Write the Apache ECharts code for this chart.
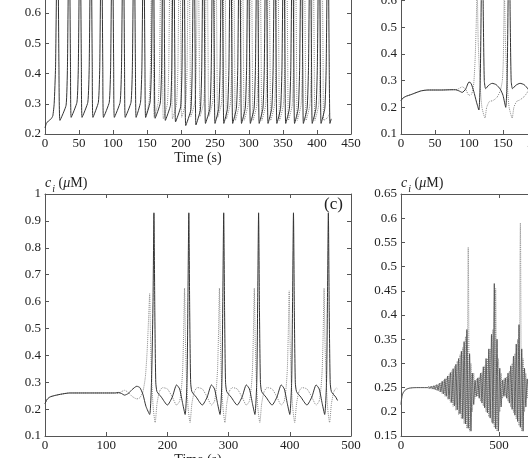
<!DOCTYPE html>
<html><head><meta charset="utf-8">
<script src="https://cdn.jsdelivr.net/npm/echarts@6/dist/echarts.min.js"></script>
<style>html,body{margin:0;padding:0;background:#fff}#c{width:528px;height:458px}</style>
</head><body><div id="c"></div>
<script>
// ---------- data: [time (s), c_i (uM)] ----------
const aSolid = [[0,.22],[2,.235],[5,.243],[9,.25],[11.5,.26],[13.5,.3],[15.5,.42],[18.5,.95],[20.5,.42],
[22,.245],[31,.295],[33,.42],[35.5,.95],[37.5,.42],
[38.5,.255],[47,.305],[49,.42],[51.5,.95],[53.5,.42],
[54.5,.255],[63,.305],[65,.42],[67.5,.95],[69.5,.42],
[70.5,.255],[78.5,.305],[80.5,.42],[83,.95],[85,.42],
[86,.255],[94.5,.305],[96.5,.42],[99,.95],[101,.42],
[102,.255],[110.5,.305],[112.5,.42],[115,.95],[117,.42],
[118,.255],[126.5,.305],[128.5,.42],[131,.95],[133,.42],
[134,.255],[140.5,.305],[142.5,.42],[145,.95],[147,.42],
[148,.255],[154.5,.305],[156.5,.42],[159,.95],[161,.42],
[162,.252],[169.5,.302],[171.5,.42],[174,.95],[176,.42],
[177,.245],[184.5,.295],[186.5,.42],[189,.95],[191,.42],
[192,.24],[199.5,.29],[201.5,.42],[204,.95],[206,.42],
[207,.228],[214.5,.28],[216.5,.42],[219,.95],[221,.42],
[222,.23],[228.5,.28],[230.5,.42],[233,.95],[235,.42],
[236,.235],[242.5,.285],[244.5,.42],[247,.95],[249,.42],
[250,.235],[255.5,.285],[257.5,.42],[260,.95],[262,.42],
[263,.235],[268.5,.285],[270.5,.42],[273,.95],[275,.42],
[276,.235],[281.5,.285],[283.5,.42],[286,.95],[288,.42],
[289,.235],[294.5,.285],[296.5,.42],[299,.95],[301,.42],
[302,.235],[307.5,.285],[309.5,.42],[312,.95],[314,.42],
[315,.235],[320.5,.285],[322.5,.42],[325,.95],[327,.42],
[328,.235],[333.5,.285],[335.5,.42],[338,.95],[340,.42],
[341,.235],[346.5,.285],[348.5,.42],[351,.95],[353,.42],
[354,.235],[359.5,.285],[361.5,.42],[364,.95],[366,.42],
[367,.235],[372.5,.285],[374.5,.42],[377,.95],[379,.42],
[380,.235],[385.5,.285],[387.5,.42],[390,.95],[392,.42],
[393,.235],[398.5,.285],[400.5,.42],[403,.95],[405,.42],
[406,.235],[411.5,.285],[413.5,.42],[416,.95],[418,.42],
[419,.235],[421,.25]];
const aDotted = [[148,.255],[153,.305],[155,.42],[157.5,.95],[159.5,.42],
[160.5,.255],[166.5,.305],[168.5,.42],[171,.95],[173,.42],
[174,.25],[180,.3],[182,.42],[184.5,.95],[186.5,.42],
[187.5,.25],[193.5,.3],[195.5,.42],[198,.95],[200,.42],
[201,.255],[207,.305],[209,.42],[211.5,.95],[213.5,.42],
[214.5,.258],[220.5,.305],[222.5,.42],[225,.95],[227,.42],
[228,.258],[233.5,.305],[235.5,.42],[238,.95],[240,.42],
[241,.258],[246.5,.305],[248.5,.42],[251,.95],[253,.42],
[254,.255],[259.5,.3],[261.5,.42],[264,.95],[266,.42],
[267,.25],[272.5,.3],[274.5,.42],[277,.95],[279,.42],
[280,.245],[285.5,.295],[287.5,.42],[290,.95],[292,.42],
[293,.245],[298.5,.295],[300.5,.42],[303,.95],[305,.42],
[306,.245],[311.5,.295],[313.5,.42],[316,.95],[318,.42],
[319,.245],[324.5,.295],[326.5,.42],[329,.95],[331,.42],
[332,.245],[337.5,.295],[339.5,.42],[342,.95],[344,.42],
[345,.245],[350.5,.295],[352.5,.42],[355,.95],[357,.42],
[358,.245],[363.5,.295],[365.5,.42],[368,.95],[370,.42],
[371,.245],[376.5,.295],[378.5,.42],[381,.95],[383,.42],
[384,.245],[389.5,.295],[391.5,.42],[394,.95],[396,.42],
[397,.245],[402.5,.295],[404.5,.42],[407,.95],[409,.42],
[410,.245],[416,.255],[419,.27]];

const bSolid = [[0,.225],[3,.235],[8,.242],[15,.248],[22,.255],[30,.262],[40,.265],[60,.265],[75,.266],
[80,.266],[85,.262],[90,.256],[95,.268],[100,.295],[103,.29],[107,.26],[111,.22],[114.5,.19],[116.5,.3],[118,.6],[119.5,.93],
[121,.55],[122.5,.3],[124.5,.27],[129,.283],[134,.29],[140,.285],[146,.268],[150,.245],[154,.2],[156,.3],[157.5,.6],[159,.93],
[160.5,.55],[162,.3],[164,.27],[169,.283],[175,.29],[181,.285],[187,.268],[191,.245],[195,.2],[197,.3],[198.5,.6],[200,.93]];
const bDotted = [[0,.225],[3,.235],[8,.242],[15,.248],[22,.255],[30,.262],[40,.265],[60,.265],[75,.266],
[80,.266],[85,.27],[90,.277],[95,.268],[100,.245],[104,.25],[107,.29],[109,.38],[110.5,.5],[112,.65],[113.5,.45],[116,.3],[119,.2],[123.5,.16],
[126,.2],[130,.222],[135,.225],[141,.237],[146,.262],[149,.3],[150.5,.38],[152,.65],[153.5,.45],[156,.3],[159,.2],[163.5,.16],
[166,.2],[170,.222],[175,.228],[181,.24],[187,.262],[190,.3],[191.5,.38],[193,.65],[194.5,.45]];

const cSolid = [[0,.22],[3,.235],[8,.245],[15,.25],[25,.255],[40,.26],[70,.26],[100,.26],[115,.26],
[120,.262],[125,.258],[130,.252],[136,.258],[142,.272],[150,.285],[155,.28],[160,.255],[165,.21],[171,.18],[174,.3],[176.5,.6],[178,.93],
[179.5,.55],[181,.3],[183,.265],[190,.245],[200,.215],[208,.245],[215,.29],[220,.275],[225,.22],[229,.18],[232,.3],[233.5,.6],[235,.93],
[236.5,.55],[238,.3],[240,.265],[247,.245],[257,.215],[265,.245],[272,.29],[277,.275],[282,.22],[286,.18],[289,.3],[290.5,.6],[292,.93],
[293.5,.55],[295,.3],[297,.265],[304,.245],[314,.215],[322,.245],[329,.29],[334,.275],[339,.22],[343,.18],[346,.3],[347.5,.6],[349,.93],
[350.5,.55],[352,.3],[354,.265],[361,.245],[371,.215],[379,.245],[386,.29],[391,.275],[396,.22],[400,.18],[403,.3],[404.5,.6],[406,.93],
[407.5,.55],[409,.3],[411,.265],[418,.245],[428,.215],[436,.245],[443,.29],[448,.275],[453,.22],[457,.18],[460,.3],[461.5,.6],[463,.93],
[464.5,.55],[466,.3],[468,.265],[475,.245],[478,.232]];
const cDotted = [[0,.22],[3,.235],[8,.245],[15,.25],[25,.255],[40,.26],[70,.26],[100,.26],[115,.26],
[120,.258],[125,.265],[130,.27],[136,.262],[142,.248],[150,.238],[155,.242],[160,.265],[164,.32],[167,.42],[169.5,.55],[171,.63],[172.5,.45],[174.5,.3],[177,.2],[180,.15],
[183,.22],[187,.265],[192,.28],[200,.275],[208,.245],[215,.215],[220,.23],[223,.28],[225,.35],[226.5,.48],[228,.65],[229.5,.45],[231.5,.3],[234,.2],[237,.15],
[240,.22],[244,.265],[249,.28],[257,.275],[265,.245],[272,.215],[277,.23],[280,.28],[282,.35],[283.5,.48],[285,.65],[286.5,.45],[288.5,.3],[291,.2],[294,.15],
[297,.22],[301,.265],[306,.28],[314,.275],[322,.245],[329,.215],[334,.23],[337,.28],[339,.35],[340.5,.48],[342,.65],[343.5,.45],[345.5,.3],[348,.2],[351,.15],
[354,.22],[358,.265],[363,.28],[371,.275],[379,.245],[386,.215],[391,.23],[394,.28],[396,.35],[397.5,.48],[399,.64],[400.5,.45],[402.5,.3],[405,.2],[408,.15],
[411,.22],[415,.265],[420,.28],[428,.275],[436,.245],[443,.215],[448,.23],[451,.28],[453,.35],[454.5,.48],[456,.65],[457.5,.45],[459.5,.3],[462,.2],[465,.15],
[468,.22],[472,.265],[476,.278],[478,.275]];

const dSolid = [[0,.215],[5,.232],[12,.24],[25,.246],[45,.249],[80,.25],[120,.25],[135,.25],
[140,.252],[147,.248],[154,.253],[161,.247],[168,.254],[175,.246],[182,.256],[189,.244],[196,.259],[203,.241],
[210,.263],[217,.237],[224,.268],[231,.232],[238,.274],[245,.226],[252,.281],[259,.219],[266,.289],[273,.212],
[280,.298],[287,.204],[294,.31],[301,.196],[308,.325],[315,.186],[322,.345],[329,.175],[336,.37],[343,.166],
[350,.32],[357,.16],[364,.28],[371,.215],[378,.265],[385,.232],[392,.27],[399,.228],[406,.28],[413,.218],
[420,.293],[427,.208],[434,.31],[441,.198],[448,.33],[455,.187],[462,.36],[469,.176],[476,.465],[483,.165],
[490,.35],[497,.16],[504,.29],[511,.21],[518,.265],[525,.232],[532,.27],[539,.228],[546,.28],[553,.218],
[560,.295],[567,.205],[574,.315],[581,.193],[588,.34],[595,.18],[602,.38],[609,.168],[616,.33],[623,.16],
[630,.29],[637,.21],[644,.268],[651,.232]];
const dDotted = [[0,.215],[5,.232],[12,.24],[25,.246],[45,.249],[80,.25],[120,.25],[135,.25],
[140,.248],[147,.252],[154,.247],[161,.253],[168,.246],[175,.255],[182,.244],[189,.257],[196,.241],[203,.26],
[210,.237],[217,.265],[224,.232],[231,.27],[238,.226],[245,.277],[252,.219],[259,.285],[266,.211],[273,.294],
[280,.203],[287,.305],[294,.194],[301,.318],[308,.185],[315,.333],[322,.175],[329,.355],[336,.166],[343,.54],
[350,.16],[357,.3],[364,.2],[371,.28],[378,.228],[385,.268],[392,.232],[399,.272],[406,.222],[413,.282],
[420,.212],[427,.295],[434,.2],[441,.31],[448,.19],[455,.33],[462,.178],[469,.37],[476,.168],[483,.455],
[490,.16],[497,.31],[504,.2],[511,.28],[518,.228],[525,.268],[532,.232],[539,.272],[546,.222],[553,.284],
[560,.21],[567,.3],[574,.198],[581,.32],[588,.185],[595,.35],[602,.172],[609,.59],[616,.16],[623,.31],
[630,.2],[637,.28],[644,.228],[651,.268]];

// axis ranges (min, max, interval) for each panel
const xRanges = [[0,450,50],[0,450,50],[0,500,100],[0,1500,500]];
const yRanges = [[0.2,1.0,0.1],[0.1,1.0,0.1],[0.1,1.0,0.1],[0.15,0.65,0.05]];
const xTitles = ['Time (s)','Time (s)','Time (s)',''];
const panelLabel = '(c)';

// ---------- chart ----------
const FONT = 'Liberation Serif';
const AX = '#555', TXT = '#222';
const grids = [
  {left:45, top:-108, width:306, height:242},
  {left:401, top:-106, width:306, height:240},
  {left:45, top:194, width:306, height:242},
  {left:401, top:194, width:294, height:242}
].map(g => Object.assign(g, {outerBoundsMode:'none', containLabel:false}));
const fmt = v => String(Math.round(v*1000)/1000);
const xAxes = [], yAxes = [];
grids.forEach((g, i) => {
  const [x0,x1,xi] = xRanges[i], [y0,y1,yi] = yRanges[i];
  const base = {gridIndex:i, type:'value', splitLine:{show:false},
    axisLine:{show:true, onZero:false, lineStyle:{color:AX, width:1}},
    axisTick:{show:true, inside:true, length:4, lineStyle:{color:AX}}};
  xAxes.push(Object.assign({}, base, {min:x0, max:x1, interval:xi, position:'bottom',
    axisLabel:{color:TXT, fontFamily:FONT, fontSize:13, margin:3, formatter:fmt, showMinLabel:true, showMaxLabel:true},
    name:xTitles[i], nameLocation:'middle', nameGap:17, nameMoveOverlap:false,
    nameTextStyle:{color:TXT, fontFamily:FONT, fontSize:14}}));
  xAxes.push(Object.assign({}, base, {min:x0, max:x1, interval:xi, position:'top', axisLabel:{show:false}}));
  yAxes.push(Object.assign({}, base, {min:y0, max:y1, interval:yi, position:'left',
    axisLabel:{color:TXT, fontFamily:FONT, fontSize:13, margin:4, formatter:fmt, showMinLabel:true, showMaxLabel:true},
    name:'{it|c}{sub|i} ({it|\u03bc}M)', nameLocation:'end', nameGap:3, nameMoveOverlap:false,
    nameTextStyle:{color:TXT, fontFamily:FONT, fontSize:14, align:'left',
      rich:{it:{fontFamily:FONT, fontSize:14, fontStyle:'italic', color:TXT, verticalAlign:'top', lineHeight:15},
            sub:{fontFamily:FONT, fontSize:10, fontStyle:'italic', color:TXT, verticalAlign:'top', lineHeight:10, padding:[8,0,0,1]}}}}));
  yAxes.push(Object.assign({}, base, {min:y0, max:y1, interval:yi, position:'right', axisLabel:{show:false}}));
});
const solidStyle = {color:'#333', width:1};
const dotStyle = {color:'#8c8c8c', width:1, type:'dotted'};
const mk = (data, gi, style, smooth) => ({type:'line', data, xAxisIndex:gi*2, yAxisIndex:gi*2,
  showSymbol:false, symbol:'none', lineStyle:style, smooth:smooth, animation:false, clip:true, z: style===solidStyle?3:2});
const series = [
  mk(aDotted,0,dotStyle,0.15), mk(aSolid,0,solidStyle,0.15),
  mk(bDotted,1,dotStyle,0.2), mk(bSolid,1,solidStyle,0.2),
  mk(cDotted,2,dotStyle,0.2), mk(cSolid,2,solidStyle,0.2),
  mk(dDotted,3,dotStyle,0.3), mk(dSolid,3,{color:'#444', width:0.8},0.3)
];
const chart = echarts.init(document.getElementById('c'), null, {renderer:'canvas'});
chart.setOption({
  animation:false, backgroundColor:'#fff',
  title:{text:panelLabel, left:324, top:196, padding:0,
    textStyle:{fontFamily:FONT, fontSize:17, fontWeight:'normal', color:TXT}},
  grid:grids, xAxis:xAxes, yAxis:yAxes, series
});
</script></body></html>
